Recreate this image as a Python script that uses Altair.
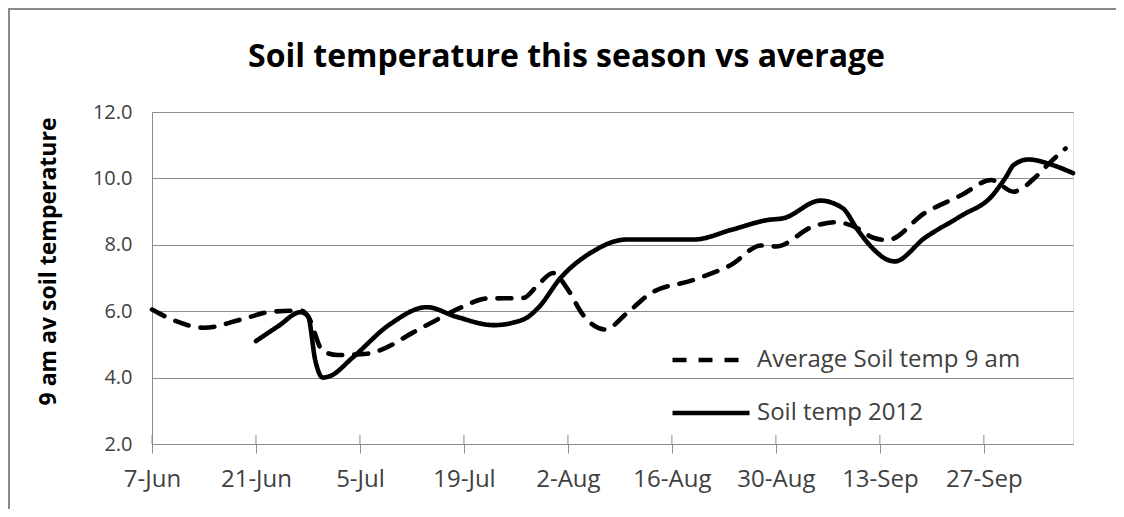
import altair as alt
import pandas as pd

# ---- data ----
avg_dates = ["2012-06-07", "2012-06-10", "2012-06-14", "2012-06-19", "2012-06-23", "2012-06-27",
             "2012-06-28", "2012-06-30", "2012-07-02", "2012-07-06", "2012-07-08", "2012-07-12",
             "2012-07-15", "2012-07-19", "2012-07-22", "2012-07-27", "2012-07-29", "2012-07-31",
             "2012-08-02", "2012-08-04", "2012-08-07", "2012-08-10", "2012-08-13", "2012-08-19",
             "2012-08-24", "2012-08-28", "2012-08-30", "2012-09-04", "2012-09-07", "2012-09-10",
             "2012-09-12", "2012-09-14", "2012-09-19", "2012-09-24", "2012-09-28", "2012-10-01",
             "2012-10-02", "2012-10-04", "2012-10-06", "2012-10-08"]
avg_values = [6.05, 5.72, 5.5, 5.75, 5.98, 6.02,
              5.85, 4.8, 4.68, 4.72, 4.85, 5.34,
              5.7, 6.15, 6.38, 6.4, 6.8, 7.15,
              6.65, 5.9, 5.45, 5.95, 6.52, 6.95,
              7.4, 7.98, 7.95, 8.55, 8.68, 8.5,
              8.22, 8.14, 8.95, 9.5, 9.95, 9.6,
              9.68, 10.05, 10.5, 10.9]

s12_dates = ["2012-06-21", "2012-06-24", "2012-06-27", "2012-06-28", "2012-06-29", "2012-06-30",
             "2012-07-01", "2012-07-04", "2012-07-09", "2012-07-14", "2012-07-18", "2012-07-23",
             "2012-07-27", "2012-07-29", "2012-08-01", "2012-08-05", "2012-08-10", "2012-08-19",
             "2012-08-24", "2012-08-29", "2012-08-31", "2012-09-05", "2012-09-08", "2012-09-10",
             "2012-09-12", "2012-09-14", "2012-09-15", "2012-09-19", "2012-09-24", "2012-09-28",
             "2012-09-30", "2012-10-01", "2012-10-03", "2012-10-06", "2012-10-09"]
s12_values = [5.1, 5.55, 5.97, 5.85, 4.5, 4.0,
              4.05, 4.6, 5.6, 6.12, 5.83, 5.58,
              5.75, 6.1, 7.0, 7.75, 8.16, 8.16,
              8.45, 8.75, 8.8, 9.33, 9.1, 8.45,
              7.9, 7.55, 7.5, 8.2, 8.88, 9.45,
              10.05, 10.4, 10.57, 10.42, 10.16]

series_names = ["Average Soil temp 9 am", "Soil temp 2012"]
tick_dates = ["2012-06-07", "2012-06-21", "2012-07-05", "2012-07-19", "2012-08-02",
              "2012-08-16", "2012-08-30", "2012-09-13", "2012-09-27"]
x_domain = ["2012-06-07", "2012-10-09"]
y_ticks = [2, 4, 6, 8, 10, 12]

# ---- tables ----
df = pd.concat([
    pd.DataFrame({"date": avg_dates, "temp": avg_values, "series": series_names[0]}),
    pd.DataFrame({"date": s12_dates, "temp": s12_values, "series": series_names[1]}),
])
ticks_df = pd.DataFrame({"date": tick_dates})

def ms(d):
    return int(pd.Timestamp(d, tz="UTC").value // 10**6)

W, H = 921, 332
FONT = "Open Sans"
GRID = "#8c8c8c"
TXT = "#404040"

xscale = alt.Scale(type="utc", domain=[ms(d) for d in x_domain])
yscale = alt.Scale(domain=[2, 12])

legend_kw = dict(title=None, orient="none", legendX=518, legendY=207,
                 symbolType="stroke", symbolSize=5929, symbolStrokeWidth=4.5,
                 labelFontSize=24, labelFont=FONT, labelColor=TXT, labelOffset=5,
                 labelLimit=500, rowPadding=0, padding=0)

lines = alt.Chart(df).mark_line(
    interpolate="monotone", strokeWidth=4.6, strokeCap="round", strokeJoin="round"
).encode(
    x=alt.X("date:T", scale=xscale,
            axis=alt.Axis(values=[ms(d) for d in tick_dates],
                          labelExpr="utcFormat(datum.value, '%-d-%b')",
                          title=None, grid=False, domainColor=GRID, tickColor=GRID,
                          tickSize=9, labelPadding=14, labelFontSize=24, labelFont=FONT,
                          labelColor=TXT, labelFlush=False, labelOverlap=False)),
    y=alt.Y("temp:Q", scale=yscale,
            axis=alt.Axis(values=y_ticks, format=".1f", title="9 am av soil temperature",
                          ticks=False, labelPadding=20, labelFontSize=20, labelFont=FONT,
                          labelColor=TXT, domainColor=GRID, gridColor=GRID,
                          titleFont=FONT, titleFontSize=23, titleFontWeight="bold",
                          titleColor="#000000", titleAngle=270, titleX=-104, titleY=149,
                          titleBaseline="middle", titleAlign="center")),
    color=alt.Color("series:N", scale=alt.Scale(domain=series_names, range=["#000000", "#000000"]),
                    legend=alt.Legend(**legend_kw)),
    strokeDash=alt.StrokeDash("series:N",
                              scale=alt.Scale(domain=series_names, range=[[14, 12], [1, 0]]),
                              legend=alt.Legend(**legend_kw)),
)

# upper half of the crossing tick marks
cross = alt.Chart(ticks_df).mark_rule(color=GRID, strokeWidth=1).encode(
    x=alt.X("date:T", scale=xscale),
    y=alt.value(H - 9),
    y2=alt.value(H),
)

frame = alt.Chart(alt.Data(values=[{}])).mark_rect(
    fill="transparent", stroke="#8a8a8a", strokeWidth=2
).encode(
    x=alt.value(-143), x2=alt.value(1000), y=alt.value(-103), y2=alt.value(H + 120)
)

chart = alt.layer(frame, cross, lines).properties(
    width=W, height=H,
    title=alt.TitleParams("Soil temperature this season vs average", font=FONT, fontSize=32,
                          fontWeight="bold", color="#000000", anchor="middle", dx=-46,
                          offset=22, dy=88),
    autosize=alt.AutoSizeParams(type="none"),
    padding={"left": 144, "top": 104, "right": 43, "bottom": 65},
).configure_view(stroke=None).configure(background="white")

chart.save("out.html", embed_options={"renderer": "svg", "actions": False})
